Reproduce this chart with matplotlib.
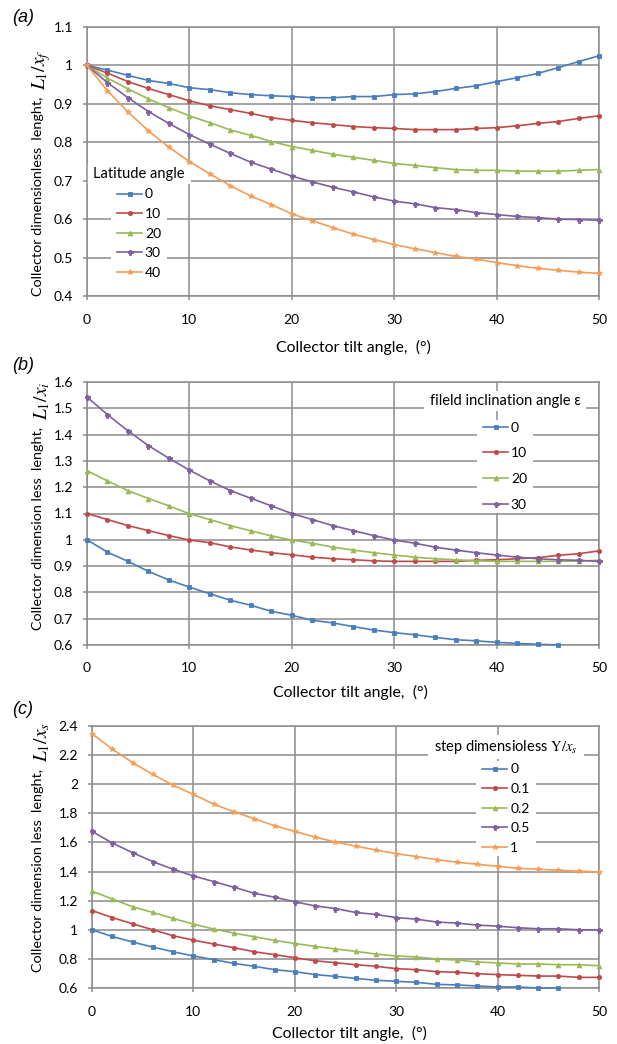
import numpy as np
import matplotlib
matplotlib.use('Agg')
from matplotlib import pyplot as plt
from matplotlib.ticker import FuncFormatter
from matplotlib.patches import Rectangle

plt.rcParams['font.family'] = ['Lato', 'DejaVu Sans']
plt.rcParams['mathtext.fontset'] = 'stix'

# tilt angle (deg)
tilt = np.arange(0, 52, 2)
tilt_short = np.arange(0, 48, 2)   # blue curves leave the axis at 46

# (a) latitude angle
lat_labels = ['0', '10', '20', '30', '40']
lat_0 = [1.0, 0.988, 0.974, 0.961, 0.953, 0.942, 0.937, 0.929, 0.924, 0.921, 0.919, 0.916, 0.916,
         0.919, 0.919, 0.924, 0.926, 0.932, 0.940, 0.947, 0.958, 0.968, 0.979, 0.994, 1.010, 1.025]
lat_10 = [1.0, 0.980, 0.958, 0.940, 0.924, 0.908, 0.895, 0.885, 0.875, 0.864, 0.857, 0.851, 0.846,
          0.841, 0.838, 0.836, 0.833, 0.833, 0.833, 0.836, 0.838, 0.843, 0.849, 0.854, 0.862, 0.869]
lat_20 = [1.0, 0.967, 0.939, 0.913, 0.890, 0.869, 0.851, 0.832, 0.818, 0.802, 0.789, 0.779, 0.769,
          0.761, 0.753, 0.745, 0.740, 0.734, 0.729, 0.727, 0.727, 0.725, 0.725, 0.725, 0.727, 0.729]
lat_30 = [1.0, 0.955, 0.916, 0.880, 0.849, 0.820, 0.795, 0.771, 0.748, 0.730, 0.712, 0.697, 0.683,
          0.671, 0.658, 0.647, 0.640, 0.630, 0.625, 0.617, 0.612, 0.607, 0.604, 0.600, 0.599, 0.597]
lat_40 = [1.0, 0.934, 0.879, 0.830, 0.787, 0.750, 0.718, 0.687, 0.660, 0.638, 0.614, 0.596, 0.578,
          0.561, 0.547, 0.534, 0.523, 0.513, 0.503, 0.496, 0.487, 0.479, 0.472, 0.467, 0.462, 0.459]

# (b) field inclination angle
inc_labels = ['0', '10', '20', '30']
inc_0 = [1.0, 0.953, 0.918, 0.880, 0.847, 0.820, 0.795, 0.770, 0.751, 0.728, 0.713, 0.694,
         0.684, 0.670, 0.657, 0.647, 0.639, 0.629, 0.620, 0.616, 0.610, 0.606, 0.603, 0.600]
inc_10 = [1.100, 1.077, 1.054, 1.035, 1.016, 0.999, 0.989, 0.973, 0.961, 0.951, 0.943, 0.934, 0.928,
          0.924, 0.920, 0.918, 0.918, 0.918, 0.918, 0.922, 0.924, 0.928, 0.932, 0.941, 0.947, 0.958]
inc_20 = [1.263, 1.224, 1.187, 1.157, 1.129, 1.099, 1.077, 1.054, 1.034, 1.015, 0.999, 0.987, 0.972,
          0.961, 0.951, 0.942, 0.934, 0.928, 0.924, 0.920, 0.918, 0.918, 0.918, 0.918, 0.919, 0.922]
inc_30 = [1.543, 1.476, 1.414, 1.358, 1.310, 1.265, 1.224, 1.187, 1.158, 1.129, 1.100, 1.077, 1.054,
          1.035, 1.016, 0.999, 0.987, 0.972, 0.961, 0.951, 0.942, 0.934, 0.928, 0.924, 0.922, 0.918]

# (c) step dimensionless
step_labels = ['0', '0.1', '0.2', '0.5', '1']
step_0 = [1.0, 0.954, 0.916, 0.881, 0.849, 0.820, 0.795, 0.769, 0.749, 0.726, 0.712, 0.692,
          0.680, 0.666, 0.653, 0.646, 0.639, 0.625, 0.621, 0.614, 0.607, 0.607, 0.600, 0.600]
step_01 = [1.132, 1.084, 1.041, 1.000, 0.959, 0.929, 0.902, 0.877, 0.849, 0.829, 0.808, 0.787, 0.774,
           0.760, 0.749, 0.733, 0.726, 0.712, 0.708, 0.698, 0.692, 0.687, 0.682, 0.682, 0.673, 0.673]
step_02 = [1.265, 1.212, 1.158, 1.119, 1.078, 1.039, 1.005, 0.977, 0.952, 0.927, 0.906, 0.886, 0.868,
           0.852, 0.833, 0.820, 0.813, 0.799, 0.792, 0.779, 0.772, 0.765, 0.765, 0.760, 0.760, 0.753]
step_05 = [1.676, 1.596, 1.530, 1.468, 1.416, 1.370, 1.331, 1.292, 1.251, 1.224, 1.192, 1.164, 1.146,
           1.119, 1.105, 1.084, 1.073, 1.053, 1.046, 1.032, 1.025, 1.014, 1.007, 1.007, 1.000, 1.000]
step_1 = [2.347, 2.242, 2.149, 2.067, 1.994, 1.930, 1.863, 1.811, 1.763, 1.715, 1.676, 1.637, 1.603,
          1.575, 1.548, 1.523, 1.503, 1.482, 1.464, 1.450, 1.436, 1.422, 1.416, 1.409, 1.402, 1.397]

colors = ['#4A7EBB', '#BE4B48', '#98B954', '#7D60A0', '#F59D56']
markers = ['s', 'o', '^', 'P', '*']
msize = [3.2, 3.0, 3.4, 3.6, 4.2]

W, H = 617, 1044
fig = plt.figure(figsize=(W / 100, H / 100), dpi=100)
grid_c = '#8C8C8C'
PX = 0.72  # points per pixel at dpi 100


def px_axes(left, top, right, bottom):
    return fig.add_axes([left / W, 1 - bottom / H, (right - left) / W, (bottom - top) / H])


def ftext(x, y, s, **kw):
    return fig.text(x / W, 1 - y / H, s, **kw)


def style(ax, ylim, ystep):
    ax.set_xlim(0, 50)
    ax.set_ylim(*ylim)
    ax.set_xticks(np.arange(0, 51, 10))
    ax.set_yticks(np.arange(ylim[0], ylim[1] + 1e-9, ystep))
    ax.yaxis.set_major_formatter(FuncFormatter(lambda v, p: '%g' % round(v, 2)))
    ax.grid(True, color=grid_c, linewidth=1.1)
    ax.set_axisbelow(True)
    for s in ax.spines.values():
        s.set_color(grid_c)
        s.set_linewidth(1.1)
    ax.tick_params(colors=grid_c, labelcolor='black', labelsize=10, length=4 * PX, width=1.1)
    ax.tick_params(axis='x', pad=13.5 * PX)
    ax.tick_params(axis='y', pad=10 * PX)


def draw(ax, series, labels):
    for i, (x, y) in enumerate(series):
        ax.plot(x, y, color=colors[i], lw=1.2, marker=markers[i], ms=msize[i],
                mec=colors[i], mew=0.6, label=labels[i], clip_on=False, zorder=3)


ylabels = []


def ylab(x, bottom, text, math):
    t = ftext(x, bottom, text, rotation=90, ha='center', va='bottom', fontsize=10.4)
    ylabels.append((t, x, math))


legends = []


def add_legend(ax, title, cx, top, spacing):
    leg = ax.legend(title=title, loc='upper center', bbox_to_anchor=(cx / W, 1 - top / H),
                    bbox_transform=fig.transFigure, frameon=False, fontsize=10,
                    title_fontsize=10.5, handlelength=1.8, handletextpad=0.2,
                    labelspacing=spacing, borderpad=0.2, borderaxespad=0)
    leg.set_zorder(5)
    legends.append((ax, leg))
    return leg


# (a)
ax1 = px_axes(87, 27, 599, 296)
style(ax1, (0.4, 1.1), 0.1)
draw(ax1, [(tilt, lat_0), (tilt, lat_10), (tilt, lat_20), (tilt, lat_30), (tilt, lat_40)], lat_labels)
add_legend(ax1, 'Latitude angle', 139, 164, 0.55)
ylab(38, 296, 'Collector dimensionless  lenght,', '$L_1/x_f$')
ftext(353, 347, 'Collector tilt angle,  (°)', fontsize=11.4, ha='center', va='center')
ftext(12, 18, '(a)', fontsize=13, style='italic', family='Liberation Sans', va='center')

# (b)
ax2 = px_axes(87, 382, 599, 645)
style(ax2, (0.6, 1.6), 0.1)
draw(ax2, [(tilt_short, inc_0), (tilt, inc_10), (tilt, inc_20), (tilt, inc_30)], inc_labels)
add_legend(ax2, 'fileld inclination angle ε', 505, 391, 0.99)
ylab(38, 630, 'Collector dimension less  lenght,', '$L_1/x_i$')
ftext(350, 692, 'Collector tilt angle,  (°)', fontsize=11.4, ha='center', va='center')
ftext(12, 365, '(b)', fontsize=13, style='italic', family='Liberation Sans', va='center')

# (c)
ax3 = px_axes(92, 726, 599, 988)
style(ax3, (0.6, 2.4), 0.2)
draw(ax3, [(tilt_short, step_0), (tilt, step_01), (tilt, step_02), (tilt, step_05), (tilt, step_1)],
     step_labels)
add_legend(ax3, 'step dimensioless $\\mathrm{Y}/x_s$', 506, 735, 0.55)
ylab(38, 972, 'Collector dimension less  lenght,', '$L_1/x_s$')
ftext(349, 1033, 'Collector tilt angle,  (°)', fontsize=11.4, ha='center', va='center')
ftext(12, 710, '(c)', fontsize=13, style='italic', family='Liberation Sans', va='center')

fig.canvas.draw()
r = fig.canvas.get_renderer()

# math part of the y labels goes right after the text part
for t, x, math in ylabels:
    top = t.get_window_extent(r).y1
    fig.text((x + 4) / W, (top + 7) / H, math, rotation=90, ha='center', va='bottom', fontsize=14)

# white boxes behind legend title and entries (hide the gridlines there, like Excel)
for ax, leg in legends:
    inv = ax.transAxes.inverted()
    for box, (padx, pady) in [(leg.get_title().get_window_extent(r), (6, 3)),
                              (leg._legend_handle_box.get_window_extent(r), (6, 2))]:
        (x0, y0), (x1, y1) = inv.transform([(box.x0 - padx, box.y0 - pady),
                                            (box.x1 + padx, box.y1 + pady)])
        ax.add_patch(Rectangle((x0, y0), x1 - x0, y1 - y0, transform=ax.transAxes,
                               facecolor='white', edgecolor='none', zorder=1, clip_on=False))

fig.savefig('out.png', dpi=100)
